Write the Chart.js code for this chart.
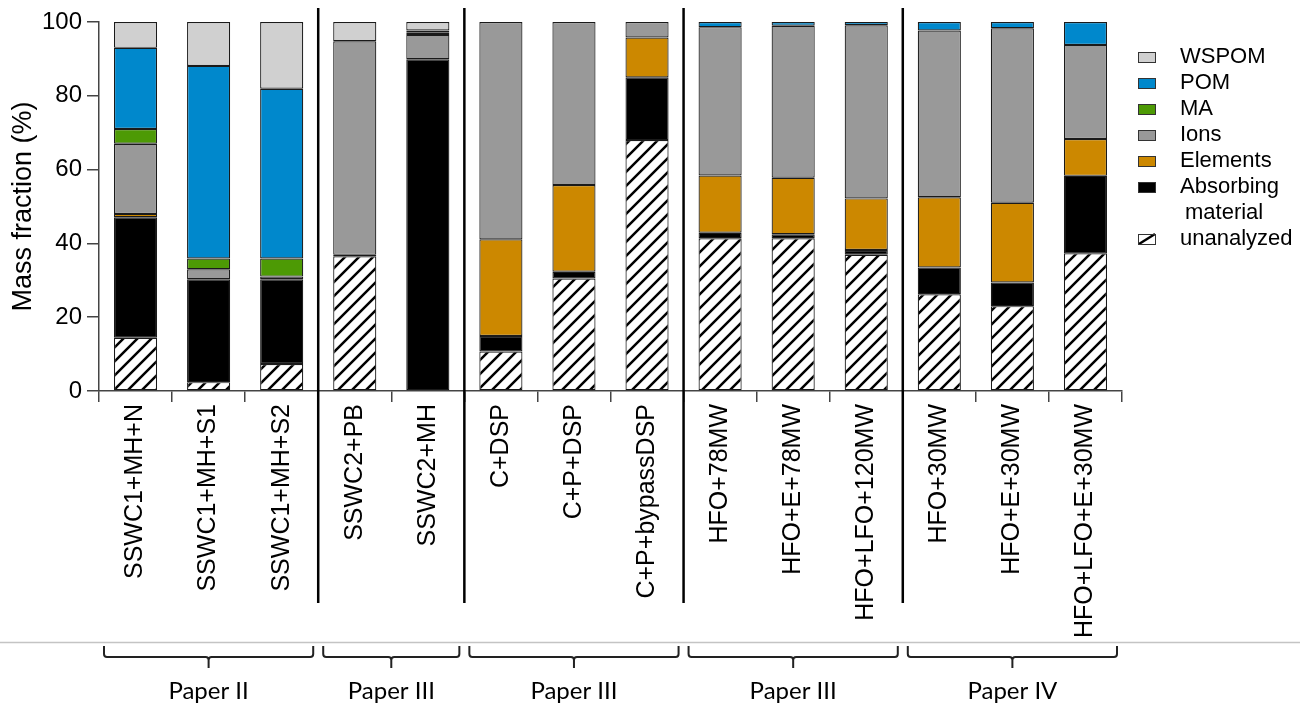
<!DOCTYPE html>
<html lang="en">
<head>
<meta charset="UTF-8">
<title>Mass fraction</title>
<style>
    body { margin: 0; background: #fff; }
    canvas { display: block; }
</style>
<script src="https://cdn.jsdelivr.net/npm/chart.js"></script>
</head>
<body>
<canvas id="massChart" width="1311" height="707"></canvas>
<script>
// categories and series (bottom of the stack first)
const categories = ['SSWC1+MH+N', 'SSWC1+MH+S1', 'SSWC1+MH+S2', 'SSWC2+PB', 'SSWC2+MH',
    'C+DSP', 'C+P+DSP', 'C+P+bypassDSP', 'HFO+78MW', 'HFO+E+78MW', 'HFO+LFO+120MW',
    'HFO+30MW', 'HFO+E+30MW', 'HFO+LFO+E+30MW'];
const unanalyzed = [14.4, 2.4, 7.3, 36.5, 0, 10.7, 30.5, 68.0, 41.4, 41.4, 36.9, 26.2, 23.0, 37.3];
const absorbing  = [32.7, 27.9, 23.0, 0.4, 89.9, 4.2, 1.8, 17.0, 1.5, 1.1, 1.3, 7.3, 6.4, 21.0];
const elements   = [0.9, 0, 0, 0, 0, 26.2, 23.5, 10.8, 15.5, 15.3, 14.0, 19.0, 21.6, 10.0];
const ions       = [19.0, 2.7, 0.7, 57.9, 6.6, 58.9, 44.2, 4.2, 40.2, 41.2, 46.9, 45.2, 47.3, 25.5];
const ma         = [4.0, 2.9, 4.9, 0, 0.6, 0, 0, 0, 0, 0, 0, 0, 0, 0];
const pom        = [22.0, 52.2, 46.0, 0, 0.6, 0, 0, 0, 1.4, 1.0, 0.9, 2.3, 1.7, 6.2];
const wspom      = [7.0, 11.9, 18.1, 5.2, 2.3, 0, 0, 0, 0, 0, 0, 0, 0, 0];
const yTicks = [0, 20, 40, 60, 80, 100];

// groups of bars under the axis
const groupLabels = ['Paper II', 'Paper III', 'Paper III', 'Paper III', 'Paper IV'];
const groupEnds = [2, 4, 7, 10, 13]; // last bar index of each group

Chart.defaults.font.family = '"Liberation Sans", Arial, sans-serif';
Chart.defaults.color = '#000';

function hatchPattern() {
    const c = document.createElement('canvas');
    c.width = 14; c.height = 14;
    const g = c.getContext('2d');
    g.fillStyle = '#fff';
    g.fillRect(0, 0, 14, 14);
    g.strokeStyle = '#000';
    g.lineWidth = 2.5;
    g.beginPath();
    g.moveTo(-2, 16); g.lineTo(16, -2);
    g.moveTo(-2, 2); g.lineTo(2, -2);
    g.moveTo(12, 16); g.lineTo(16, 12);
    g.stroke();
    return g.createPattern(c, 'repeat');
}

function series(label, data, color, hatched) {
    return {
        label: label,
        data: data,
        backgroundColor: color,
        borderColor: '#1a1a1a',
        borderWidth: 1.2,
        borderSkipped: false,
        barPercentage: 0.59,
        categoryPercentage: 1,
        hatched: !!hatched
    };
}

// legend on the right, top item = top of the stack
const sideLegend = {
    id: 'sideLegend',
    afterDraw(chart) {
        const ctx = chart.ctx;
        const items = chart.data.datasets.slice().reverse();
        let y = 57;
        ctx.save();
        ctx.font = '22px "Liberation Sans", Arial, sans-serif';
        ctx.textBaseline = 'middle';
        items.forEach(ds => {
            if (ds.hatched) {
                ctx.fillStyle = '#fff';
                ctx.fillRect(1138, y - 5, 18, 11);
                ctx.strokeStyle = '#000';
                ctx.lineWidth = 2.5;
                ctx.beginPath();
                ctx.moveTo(1139, y + 5); ctx.lineTo(1155, y - 5);
                ctx.stroke();
            } else {
                ctx.fillStyle = ds.backgroundColor;
                ctx.fillRect(1138, y - 5, 18, 11);
            }
            ctx.strokeStyle = '#333';
            ctx.lineWidth = 1;
            ctx.strokeRect(1138.5, y - 4.5, 17, 10);
            ctx.fillStyle = '#000';
            // wrap long labels onto a second line
            let lines = [ds.label];
            if (ctx.measureText(ds.label).width > 140) {
                const i = ds.label.indexOf(' ');
                lines = [ds.label.slice(0, i), ds.label.slice(i + 1)];
            }
            lines.forEach((t, i) => ctx.fillText(t, i ? 1185 : 1180, y + i * 26));
            y += 26 * lines.length;
        });
        ctx.restore();
    }
};

// group separators, brackets and paper labels
const groupMarks = {
    id: 'groupMarks',
    afterDraw(chart) {
        const ctx = chart.ctx;
        const x = chart.scales.x;
        const half = (x.getPixelForValue(1) - x.getPixelForValue(0)) / 2;
        ctx.save();
        ctx.strokeStyle = '#c4c4c4';
        ctx.lineWidth = 1.5;
        ctx.beginPath();
        ctx.moveTo(0, 642.5); ctx.lineTo(1300, 642.5);
        ctx.stroke();

        let start = 0;
        groupEnds.forEach((end, g) => {
            const left = x.getPixelForValue(start) - half;
            const right = x.getPixelForValue(end) + half;
            if (end < categories.length - 1) {
                ctx.strokeStyle = '#000';
                ctx.lineWidth = 2.5;
                ctx.beginPath();
                ctx.moveTo(right, 8); ctx.lineTo(right, 603);
                ctx.stroke();
            }
            const l = left + 5, r = right - 5, mid = (l + r) / 2;
            ctx.strokeStyle = '#222';
            ctx.lineWidth = 2;
            ctx.beginPath();
            ctx.moveTo(l, 646);
            ctx.lineTo(l, 654);
            ctx.quadraticCurveTo(l, 657, l + 3, 657);
            ctx.lineTo(mid - 3, 657);
            ctx.quadraticCurveTo(mid, 657, mid, 660);
            ctx.lineTo(mid, 668);
            ctx.moveTo(mid, 660);
            ctx.quadraticCurveTo(mid, 657, mid + 3, 657);
            ctx.lineTo(r - 3, 657);
            ctx.quadraticCurveTo(r, 657, r, 654);
            ctx.lineTo(r, 646);
            ctx.stroke();

            ctx.fillStyle = '#000';
            ctx.font = '24px Lato, "Open Sans", sans-serif';
            ctx.textAlign = 'center';
            ctx.textBaseline = 'middle';
            ctx.fillText(groupLabels[g], mid, 691);
            start = end + 1;
        });
        ctx.restore();
    }
};

const ctx = document.getElementById('massChart').getContext('2d');
new Chart(ctx, {
    type: 'bar',
    data: {
        labels: categories,
        datasets: [
            series('unanalyzed', unanalyzed, hatchPattern(), true),
            series('Absorbing material', absorbing, '#000000'),
            series('Elements', elements, '#cc8800'),
            series('Ions', ions, '#999999'),
            series('MA', ma, '#4d9a05'),
            series('POM', pom, '#0088cc'),
            series('WSPOM', wspom, '#d0d0d0')
        ]
    },
    options: {
        responsive: false,
        animation: false,
        layout: { padding: { top: 22, right: 189, bottom: 60, left: 0 } },
        plugins: {
            legend: { display: false },
            tooltip: { enabled: false }
        },
        scales: {
            x: {
                stacked: true,
                grid: { offset: true, drawOnChartArea: false, drawTicks: true, tickLength: 11, color: '#444', lineWidth: 1.5 },
                border: { display: true, color: '#444', width: 1.5 },
                ticks: { autoSkip: false, minRotation: 90, maxRotation: 90, padding: 2, font: { size: 25 } },
                afterFit(scale) { scale.height = 256; }
            },
            y: {
                stacked: true,
                min: 0,
                max: 100,
                afterBuildTicks(scale) { scale.ticks = yTicks.map(v => ({ value: v })); },
                ticks: { padding: 5, font: { size: 24 } },
                grid: { drawOnChartArea: false, tickLength: 12, color: '#444', lineWidth: 1.5 },
                border: { color: '#444', width: 1.5 },
                title: { display: true, text: 'Mass fraction (%)', font: { size: 27 }, padding: { top: 7, bottom: 0 } },
                afterFit(scale) { scale.width = 99; }
            }
        }
    },
    plugins: [sideLegend, groupMarks]
});
</script>
</body>
</html>
